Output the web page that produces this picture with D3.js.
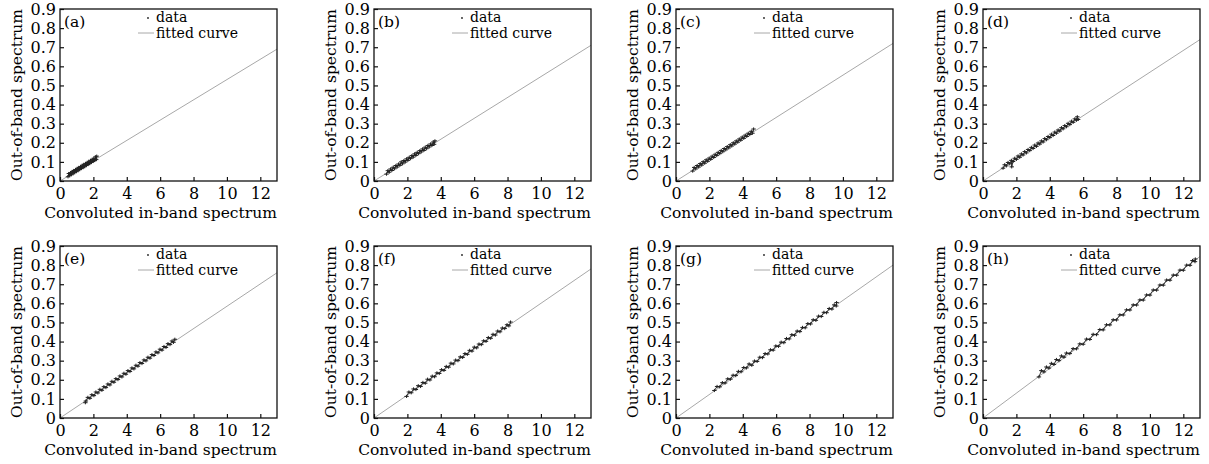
<!DOCTYPE html>
<html>
<head>
<meta charset="utf-8">
<script src="https://cdn.jsdelivr.net/npm/d3@7"></script>
<style>
  body { margin: 0; background: #fff; }
  svg text { font-family: "DejaVu Serif", "Liberation Serif", serif; fill: #000; }
</style>
</head>
<body>
<div id="chart"></div>
<script>
// panels (a)..(h), x = convoluted in-band spectrum, y = out-of-band spectrum
const panelLabels = ["(a)", "(b)", "(c)", "(d)", "(e)", "(f)", "(g)", "(h)"];
const xTicks = [0, 2, 4, 6, 8, 10, 12];
const yTicks = [0, 0.1, 0.2, 0.3, 0.4, 0.5, 0.6, 0.7, 0.8, 0.9];
const yTickLabels = ["0", "0.1", "0.2", "0.3", "0.4", "0.5", "0.6", "0.7", "0.8", "0.9"];
// fitted line value at x = 13 (line goes through origin)
const fitEnds = [0.69, 0.71, 0.72, 0.74, 0.76, 0.78, 0.80, 0.845];

const dataA = [[0.48,0.022],[0.53,0.039],[0.58,0.028],[0.63,0.044],[0.68,0.033],[0.73,0.050],[0.78,0.038],[0.83,0.055],[0.88,0.044],[0.93,0.060],[0.98,0.049],[1.03,0.066],[1.08,0.054],[1.13,0.071],[1.18,0.060],[1.23,0.076],[1.28,0.065],[1.33,0.082],[1.38,0.070],[1.43,0.087],[1.48,0.075],[1.53,0.092],[1.58,0.081],[1.63,0.097],[1.68,0.086],[1.73,0.103],[1.78,0.091],[1.83,0.108],[1.88,0.097],[1.93,0.113],[1.98,0.102],[2.03,0.119],[2.08,0.107],[2.13,0.126],[2.17,0.112],[2.20,0.130]];
const dataB = [[0.75,0.036],[0.83,0.054],[0.91,0.046],[0.99,0.063],[1.07,0.055],[1.15,0.072],[1.23,0.064],[1.31,0.081],[1.39,0.073],[1.47,0.089],[1.55,0.082],[1.63,0.100],[1.71,0.090],[1.79,0.107],[1.87,0.099],[1.95,0.116],[2.03,0.108],[2.11,0.124],[2.19,0.117],[2.27,0.133],[2.35,0.125],[2.43,0.142],[2.51,0.134],[2.59,0.150],[2.67,0.143],[2.75,0.159],[2.83,0.152],[2.91,0.168],[2.99,0.160],[3.07,0.177],[3.15,0.169],[3.23,0.186],[3.31,0.178],[3.39,0.194],[3.47,0.186],[3.55,0.204],[3.60,0.192],[3.65,0.210]];
const dataC = [[1.00,0.052],[1.09,0.071],[1.18,0.063],[1.27,0.081],[1.36,0.073],[1.45,0.091],[1.54,0.083],[1.63,0.101],[1.72,0.093],[1.81,0.111],[1.90,0.103],[1.99,0.120],[2.08,0.113],[2.17,0.130],[2.26,0.123],[2.35,0.140],[2.44,0.133],[2.53,0.150],[2.62,0.143],[2.71,0.160],[2.80,0.153],[2.89,0.170],[2.98,0.163],[3.07,0.180],[3.16,0.173],[3.25,0.190],[3.34,0.183],[3.43,0.200],[3.52,0.193],[3.61,0.210],[3.70,0.203],[3.79,0.220],[3.88,0.213],[3.97,0.230],[4.06,0.223],[4.15,0.240],[4.24,0.233],[4.33,0.250],[4.42,0.243],[4.51,0.260],[4.58,0.250],[4.65,0.272]];
const dataD = [[1.20,0.067],[1.30,0.085],[1.40,0.079],[1.50,0.097],[1.60,0.090],[1.70,0.108],[1.72,0.074],[1.80,0.102],[1.90,0.119],[2.00,0.113],[2.10,0.131],[2.20,0.124],[2.30,0.142],[2.40,0.136],[2.50,0.154],[2.60,0.147],[2.70,0.165],[2.80,0.159],[2.90,0.176],[3.00,0.170],[3.10,0.188],[3.20,0.181],[3.30,0.199],[3.40,0.193],[3.50,0.210],[3.60,0.204],[3.70,0.222],[3.80,0.216],[3.90,0.233],[4.00,0.227],[4.10,0.245],[4.20,0.238],[4.30,0.256],[4.40,0.250],[4.50,0.267],[4.60,0.261],[4.70,0.279],[4.80,0.273],[4.90,0.290],[5.00,0.284],[5.10,0.302],[5.20,0.295],[5.30,0.313],[5.40,0.307],[5.50,0.325],[5.60,0.318],[5.65,0.336],[5.70,0.322]];
const dataE = [[1.52,0.080],[1.55,0.089],[1.67,0.108],[1.79,0.103],[1.91,0.122],[2.03,0.117],[2.15,0.136],[2.27,0.131],[2.39,0.150],[2.51,0.145],[2.63,0.164],[2.75,0.159],[2.87,0.178],[2.99,0.173],[3.11,0.192],[3.23,0.187],[3.35,0.206],[3.47,0.201],[3.59,0.220],[3.71,0.215],[3.83,0.234],[3.95,0.229],[4.07,0.248],[4.19,0.243],[4.31,0.262],[4.43,0.257],[4.55,0.276],[4.67,0.271],[4.79,0.290],[4.91,0.285],[5.03,0.304],[5.15,0.299],[5.27,0.318],[5.39,0.313],[5.51,0.332],[5.63,0.327],[5.75,0.346],[5.87,0.341],[5.99,0.360],[6.11,0.355],[6.23,0.374],[6.35,0.369],[6.47,0.389],[6.59,0.384],[6.71,0.403],[6.80,0.396],[6.88,0.412]];
const dataF = [[1.95,0.113],[2.09,0.136],[2.23,0.132],[2.37,0.152],[2.51,0.149],[2.65,0.169],[2.79,0.165],[2.93,0.186],[3.07,0.182],[3.21,0.203],[3.35,0.199],[3.49,0.219],[3.63,0.216],[3.77,0.236],[3.91,0.233],[4.05,0.253],[4.19,0.249],[4.33,0.270],[4.47,0.266],[4.61,0.287],[4.75,0.283],[4.89,0.303],[5.03,0.300],[5.17,0.320],[5.31,0.317],[5.45,0.337],[5.59,0.333],[5.73,0.354],[5.87,0.350],[6.01,0.371],[6.15,0.367],[6.29,0.387],[6.43,0.384],[6.57,0.404],[6.71,0.401],[6.85,0.421],[6.99,0.417],[7.13,0.438],[7.27,0.434],[7.41,0.455],[7.55,0.451],[7.69,0.471],[7.83,0.468],[7.97,0.488],[8.08,0.482],[8.18,0.502]];
const dataG = [[2.30,0.144],[2.46,0.165],[2.62,0.163],[2.78,0.185],[2.94,0.183],[3.10,0.205],[3.26,0.203],[3.42,0.224],[3.58,0.222],[3.74,0.244],[3.90,0.242],[4.06,0.264],[4.22,0.262],[4.38,0.283],[4.54,0.276],[4.70,0.298],[4.86,0.296],[5.02,0.318],[5.18,0.316],[5.34,0.337],[5.50,0.335],[5.66,0.357],[5.82,0.355],[5.98,0.377],[6.14,0.375],[6.30,0.397],[6.46,0.394],[6.62,0.416],[6.78,0.414],[6.94,0.436],[7.10,0.433],[7.26,0.455],[7.42,0.452],[7.58,0.474],[7.74,0.472],[7.90,0.494],[8.06,0.492],[8.22,0.514],[8.38,0.511],[8.54,0.533],[8.70,0.531],[8.86,0.553],[9.02,0.551],[9.18,0.573],[9.34,0.570],[9.48,0.592],[9.60,0.586],[9.62,0.604]];
const dataH = [[3.35,0.215],[3.50,0.248],[3.65,0.241],[3.80,0.267],[3.95,0.261],[4.10,0.286],[4.25,0.280],[4.40,0.306],[4.55,0.300],[4.70,0.325],[4.85,0.318],[5.00,0.340],[5.20,0.337],[5.40,0.363],[5.60,0.362],[5.80,0.388],[6.00,0.386],[6.20,0.413],[6.40,0.411],[6.60,0.438],[6.80,0.436],[7.00,0.463],[7.20,0.461],[7.40,0.488],[7.60,0.487],[7.80,0.514],[8.00,0.513],[8.20,0.540],[8.40,0.539],[8.60,0.566],[8.80,0.565],[9.00,0.592],[9.20,0.591],[9.40,0.618],[9.60,0.617],[9.80,0.644],[10.00,0.643],[10.20,0.670],[10.40,0.669],[10.60,0.696],[10.80,0.695],[11.00,0.722],[11.20,0.721],[11.40,0.748],[11.60,0.747],[11.80,0.774],[12.00,0.773],[12.20,0.800],[12.40,0.799],[12.55,0.824],[12.70,0.818],[12.72,0.832]];
const panelData = [dataA, dataB, dataC, dataD, dataE, dataF, dataG, dataH];

const width = 1209, height = 464;
const colLeft = [60, 374, 676, 983];
const rowTop = [9, 246];
const pw = 217, ph = 172;

const svg = d3.select("#chart").append("svg")
    .attr("width", width)
    .attr("height", height);

const cross = "M-2.2,0H2.2M0,-1.6V1.6";

panelData.forEach((pts, i) => {
    const left = colLeft[i % 4], top = rowTop[Math.floor(i / 4)];
    const g = svg.append("g").attr("transform", `translate(${left},${top})`);

    const x = d3.scaleLinear().domain([0, 13]).range([0, pw]);
    const y = d3.scaleLinear().domain([0, 0.9]).range([ph, 0]);

    // fitted line
    g.append("line")
        .attr("x1", x(0)).attr("y1", y(0))
        .attr("x2", x(13)).attr("y2", y(fitEnds[i]))
        .attr("stroke", "#a8a8a8").attr("stroke-width", 1);

    // data: thin trace through the samples + cross markers
    const trace = d3.line().x(d => x(d[0])).y(d => y(d[1]));
    g.append("path").attr("d", trace(pts))
        .attr("fill", "none").attr("stroke", "#333").attr("stroke-width", 1);
    g.selectAll(".pt").data(pts).enter().append("path")
        .attr("class", "pt")
        .attr("d", cross)
        .attr("transform", d => `translate(${x(d[0])},${y(d[1])})`)
        .attr("stroke", "#222").attr("stroke-width", 1).attr("fill", "none");

    // axes, ticks pointing inward
    const xAxis = d3.axisBottom(x).tickValues(xTicks).tickSizeInner(-4).tickSizeOuter(0).tickPadding(7);
    const yAxis = d3.axisLeft(y).tickValues(yTicks).tickSizeInner(-4).tickSizeOuter(0).tickPadding(4)
        .tickFormat((d, j) => yTickLabels[j]);

    const gx = g.append("g").attr("transform", `translate(0,${ph})`).call(xAxis);
    const gy = g.append("g").call(yAxis);
    [gx, gy].forEach(a => {
        a.select(".domain").remove();
        a.selectAll("line").attr("stroke", "#111").attr("stroke-width", 1.2);
        a.selectAll("text").style("font-size", "16px").style("font-family", "DejaVu Serif")
            .attr("fill", "#000");
    });

    // frame
    g.append("rect").attr("width", pw).attr("height", ph)
        .attr("fill", "none").attr("stroke", "#111").attr("stroke-width", 1.3);

    // panel tag
    g.append("text").attr("x", 4).attr("y", 18)
        .style("font-size", "15.5px").text(panelLabels[i]);

    // legend
    g.append("circle").attr("cx", 88).attr("cy", 9).attr("r", 0.9).attr("fill", "#222");
    g.append("text").attr("x", 96).attr("y", 13).style("font-size", "14px").text("data");
    g.append("line").attr("x1", 78).attr("x2", 94).attr("y1", 24).attr("y2", 24)
        .attr("stroke", "#a8a8a8").attr("stroke-width", 1);
    g.append("text").attr("x", 96).attr("y", 29).style("font-size", "14px").text("fitted curve");

    // axis titles
    g.append("text").attr("x", pw / 2 - 8).attr("y", ph + 37)
        .attr("text-anchor", "middle").style("font-size", "15.5px")
        .text("Convoluted in-band spectrum");
    g.append("text").attr("transform", `translate(-38,${ph / 2}) rotate(-90)`)
        .attr("text-anchor", "middle").style("font-size", "15.5px")
        .text("Out-of-band spectrum");
});
</script>
</body>
</html>
